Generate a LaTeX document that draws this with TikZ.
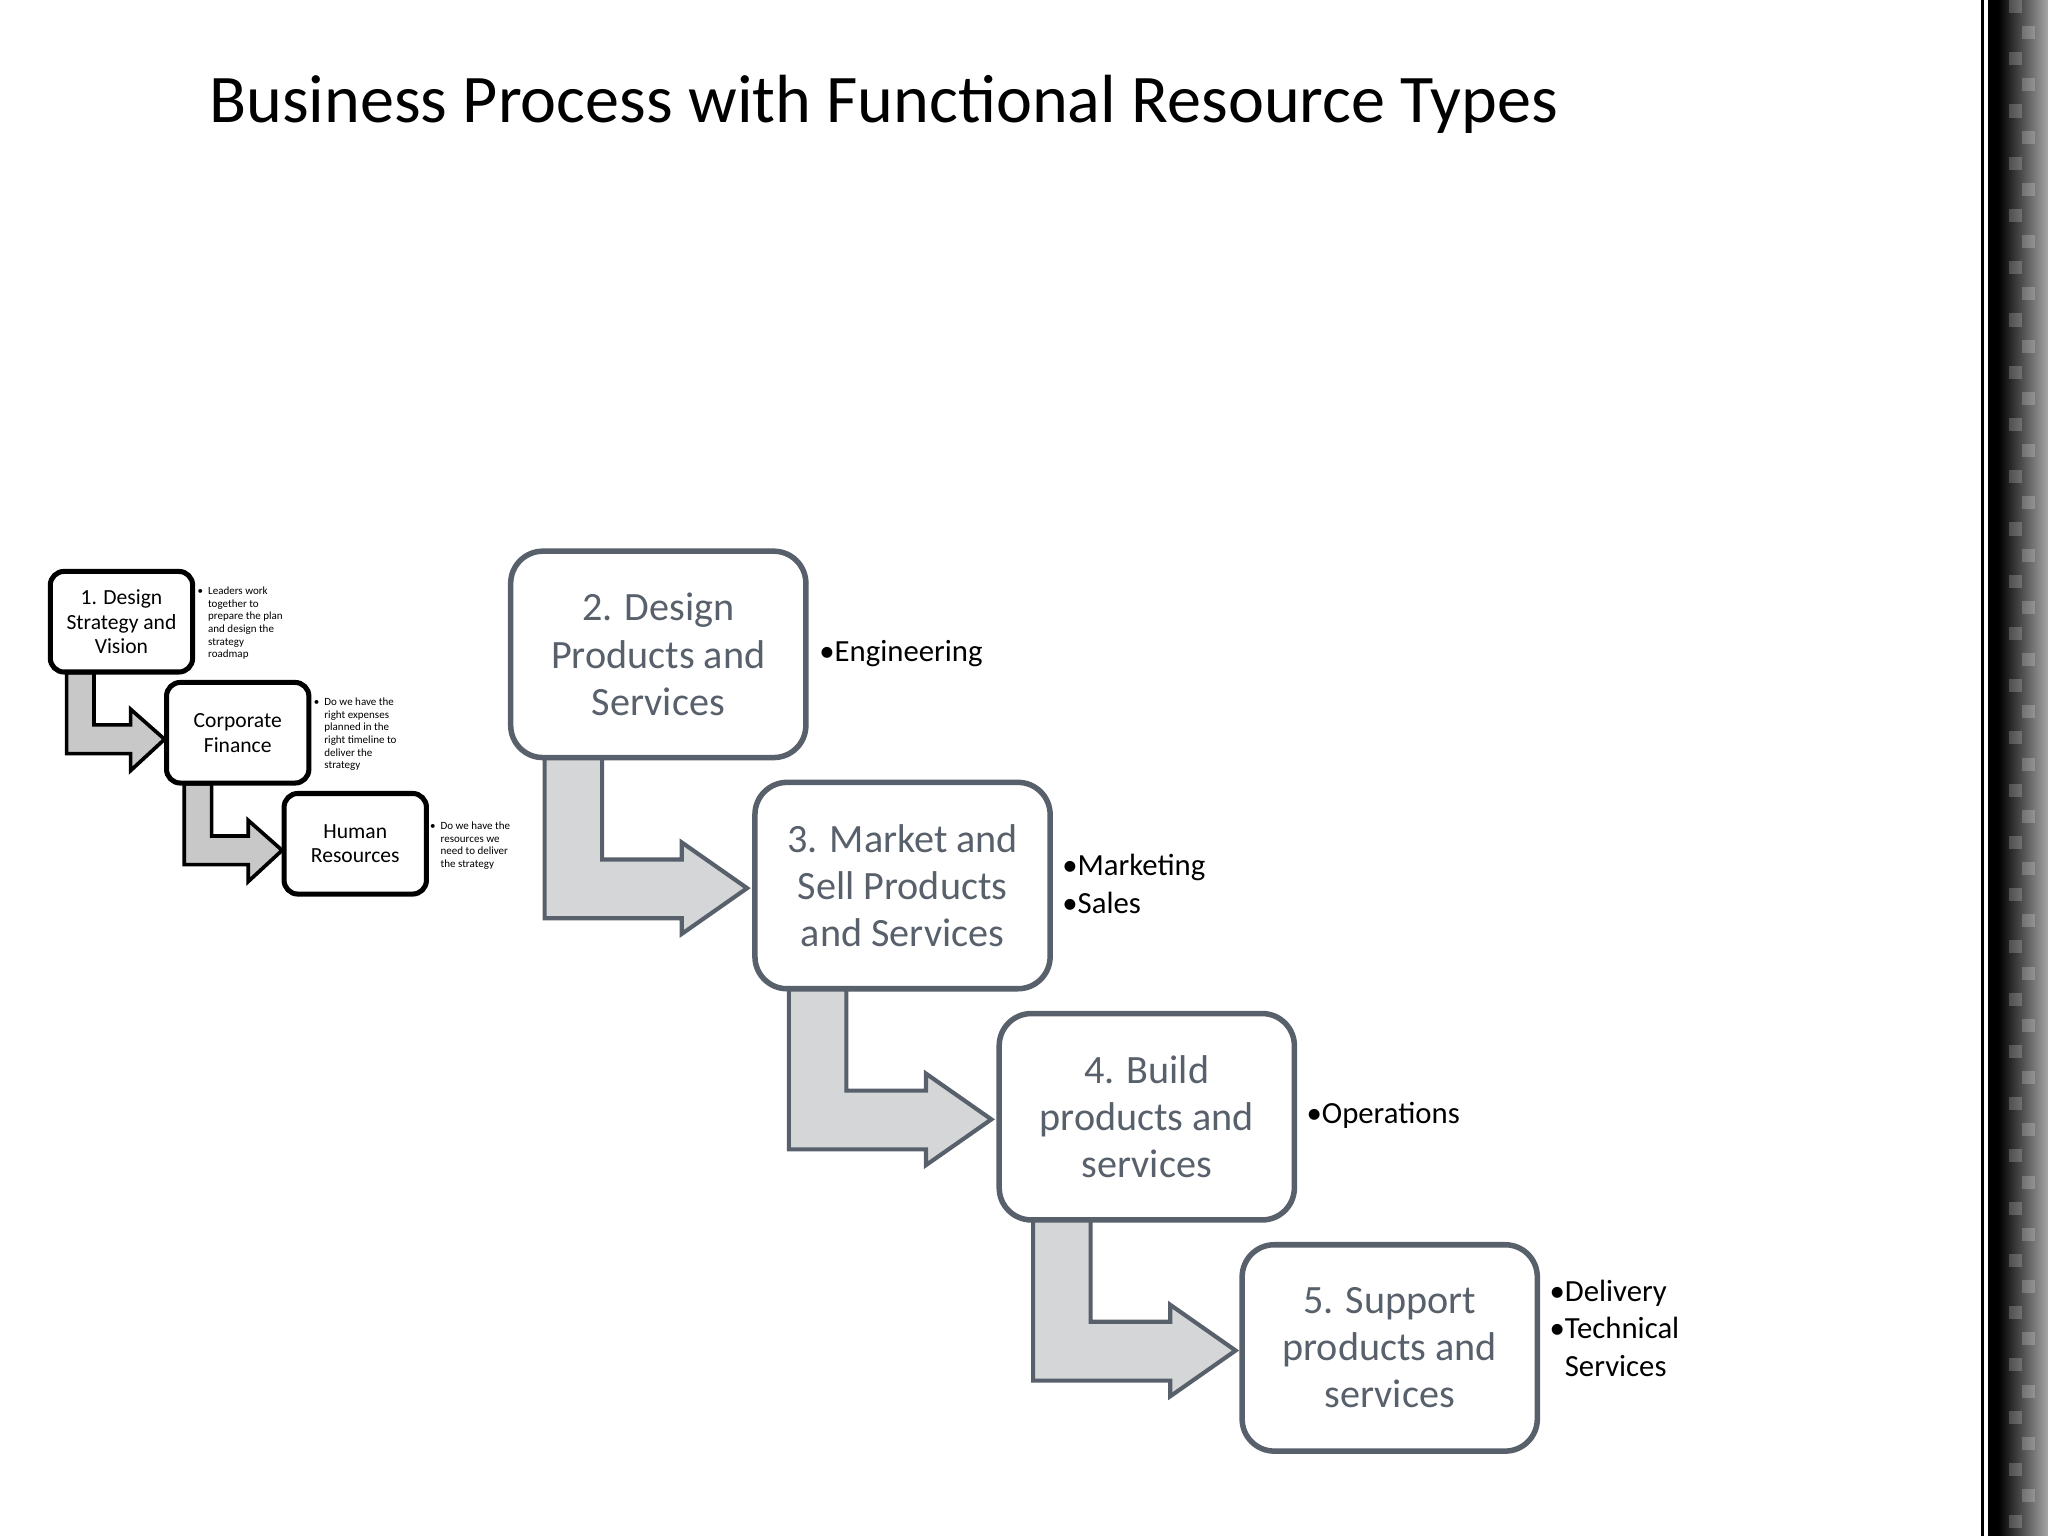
\documentclass[tikz,border=0pt]{standalone}
\usepackage{fontspec}
\setmainfont{Carlito}
\begin{document}
\begin{tikzpicture}[x=0.02cm,y=-0.02cm,
 big/.style={draw=boxgray,line width=2.4pt,rounded corners=14pt,fill=white,minimum width=226*0.02cm,minimum height=158*0.02cm,inner sep=0pt,text=txtgray,align=center,font=\fontsize{17.5}{20.5}\selectfont},
 small/.style={draw=black,line width=2.2pt,rounded corners=6pt,fill=white,minimum width=109*0.02cm,minimum height=77*0.02cm,inner sep=0pt,align=center,font=\fontsize{9.4}{10.8}\selectfont},
 lab/.style={anchor=west,align=left,font=\fontsize{13.4}{16.5}\selectfont,inner sep=0pt},
 tiny/.style={anchor=north west,align=left,font=\fontsize{4.8}{5.5}\selectfont,inner sep=0pt},
 bigarrow/.style={fill=arrgray,draw=boxgray,line width=1.8pt},
 smallarrow/.style={fill=sarrgray,draw=black,line width=1.6pt}]
\definecolor{boxgray}{HTML}{58606B}
\definecolor{txtgray}{HTML}{58606B}
\definecolor{arrgray}{HTML}{D5D6D8}
\definecolor{sarrgray}{HTML}{C8C8C8}
\useasboundingbox (0,0) rectangle (1568,1176);
\fill[white] (0,0) rectangle (1568,1176);
% right decorative edge
\fill[black] (1517,0) rectangle (1568,1176);
\shade[left color=black,right color=gray!70] (1530,0) rectangle (1568,1176);
\foreach \i in {0,...,58}{ \pgfmathsetmacro{\xx}{1538+mod(\i,2)*10}
 \fill[white,opacity=0.2] (\xx,\i*20) rectangle ++(10,10);}
\fill[white] (1519,0) rectangle (1522,1176);
\node[anchor=west,font=\fontsize{29.7}{32}\selectfont,inner sep=0pt] (title) at (160,80) {Business Process with Functional Resource Types};
% big arrows
\foreach \dx/\dy in {0/0,187/177,374/354}{
 \draw[bigarrow,shift={(\dx,\dy)}] (417,580)--(461,580)--(461,658)--(522,658)--(522,645)--(572,680)--(522,715)--(522,703)--(417,703)--cycle;}
\foreach \dx/\dy in {0/0,90/85}{
 \draw[smallarrow,shift={(\dx,\dy)}] (51,515)--(72,515)--(72,555)--(100,555)--(100,543)--(126,566)--(100,590)--(100,577)--(51,577)--cycle;}
\node[big] (b2) at (504,501) {2. Design\\Products and\\Services};
\node[big] (b3) at (691,678) {3. Market and\\Sell Products\\and Services};
\node[big] (b4) at (878,855) {4. Build\\products and\\services};
\node[big] (b5) at (1064,1032) {5. Support\\products and\\services};
\node[small] (s1) at (93,476) {1. Design\\Strategy and\\Vision};
\node[small] (s2) at (182,561) {Corporate\\Finance};
\node[small] (s3) at (272,646) {Human\\Resources};
\node[lab] (l2) at (627,500) {•Engineering};
\node[lab] (l3) at (813,677) {•Marketing\\•Sales};
\node[lab] (l4) at (1000,854) {•Operations};
\node[lab] (l5) at (1186,1017) {•Delivery\\•Technical\\\hphantom{•}Services};
\node[tiny] (t1) at (151,449) {•\ \ Leaders work\\\hphantom{•\ \ }together to\\\hphantom{•\ \ }prepare the plan\\\hphantom{•\ \ }and design the\\\hphantom{•\ \ }strategy\\\hphantom{•\ \ }roadmap};
\node[tiny] (t2) at (240,534) {•\ \ Do we have the\\\hphantom{•\ \ }right expenses\\\hphantom{•\ \ }planned in the\\\hphantom{•\ \ }right timeline to\\\hphantom{•\ \ }deliver the\\\hphantom{•\ \ }strategy};
\node[tiny] (t3) at (329,629) {•\ \ Do we have the\\\hphantom{•\ \ }resources we\\\hphantom{•\ \ }need to deliver\\\hphantom{•\ \ }the strategy};
\end{tikzpicture}
\end{document}
